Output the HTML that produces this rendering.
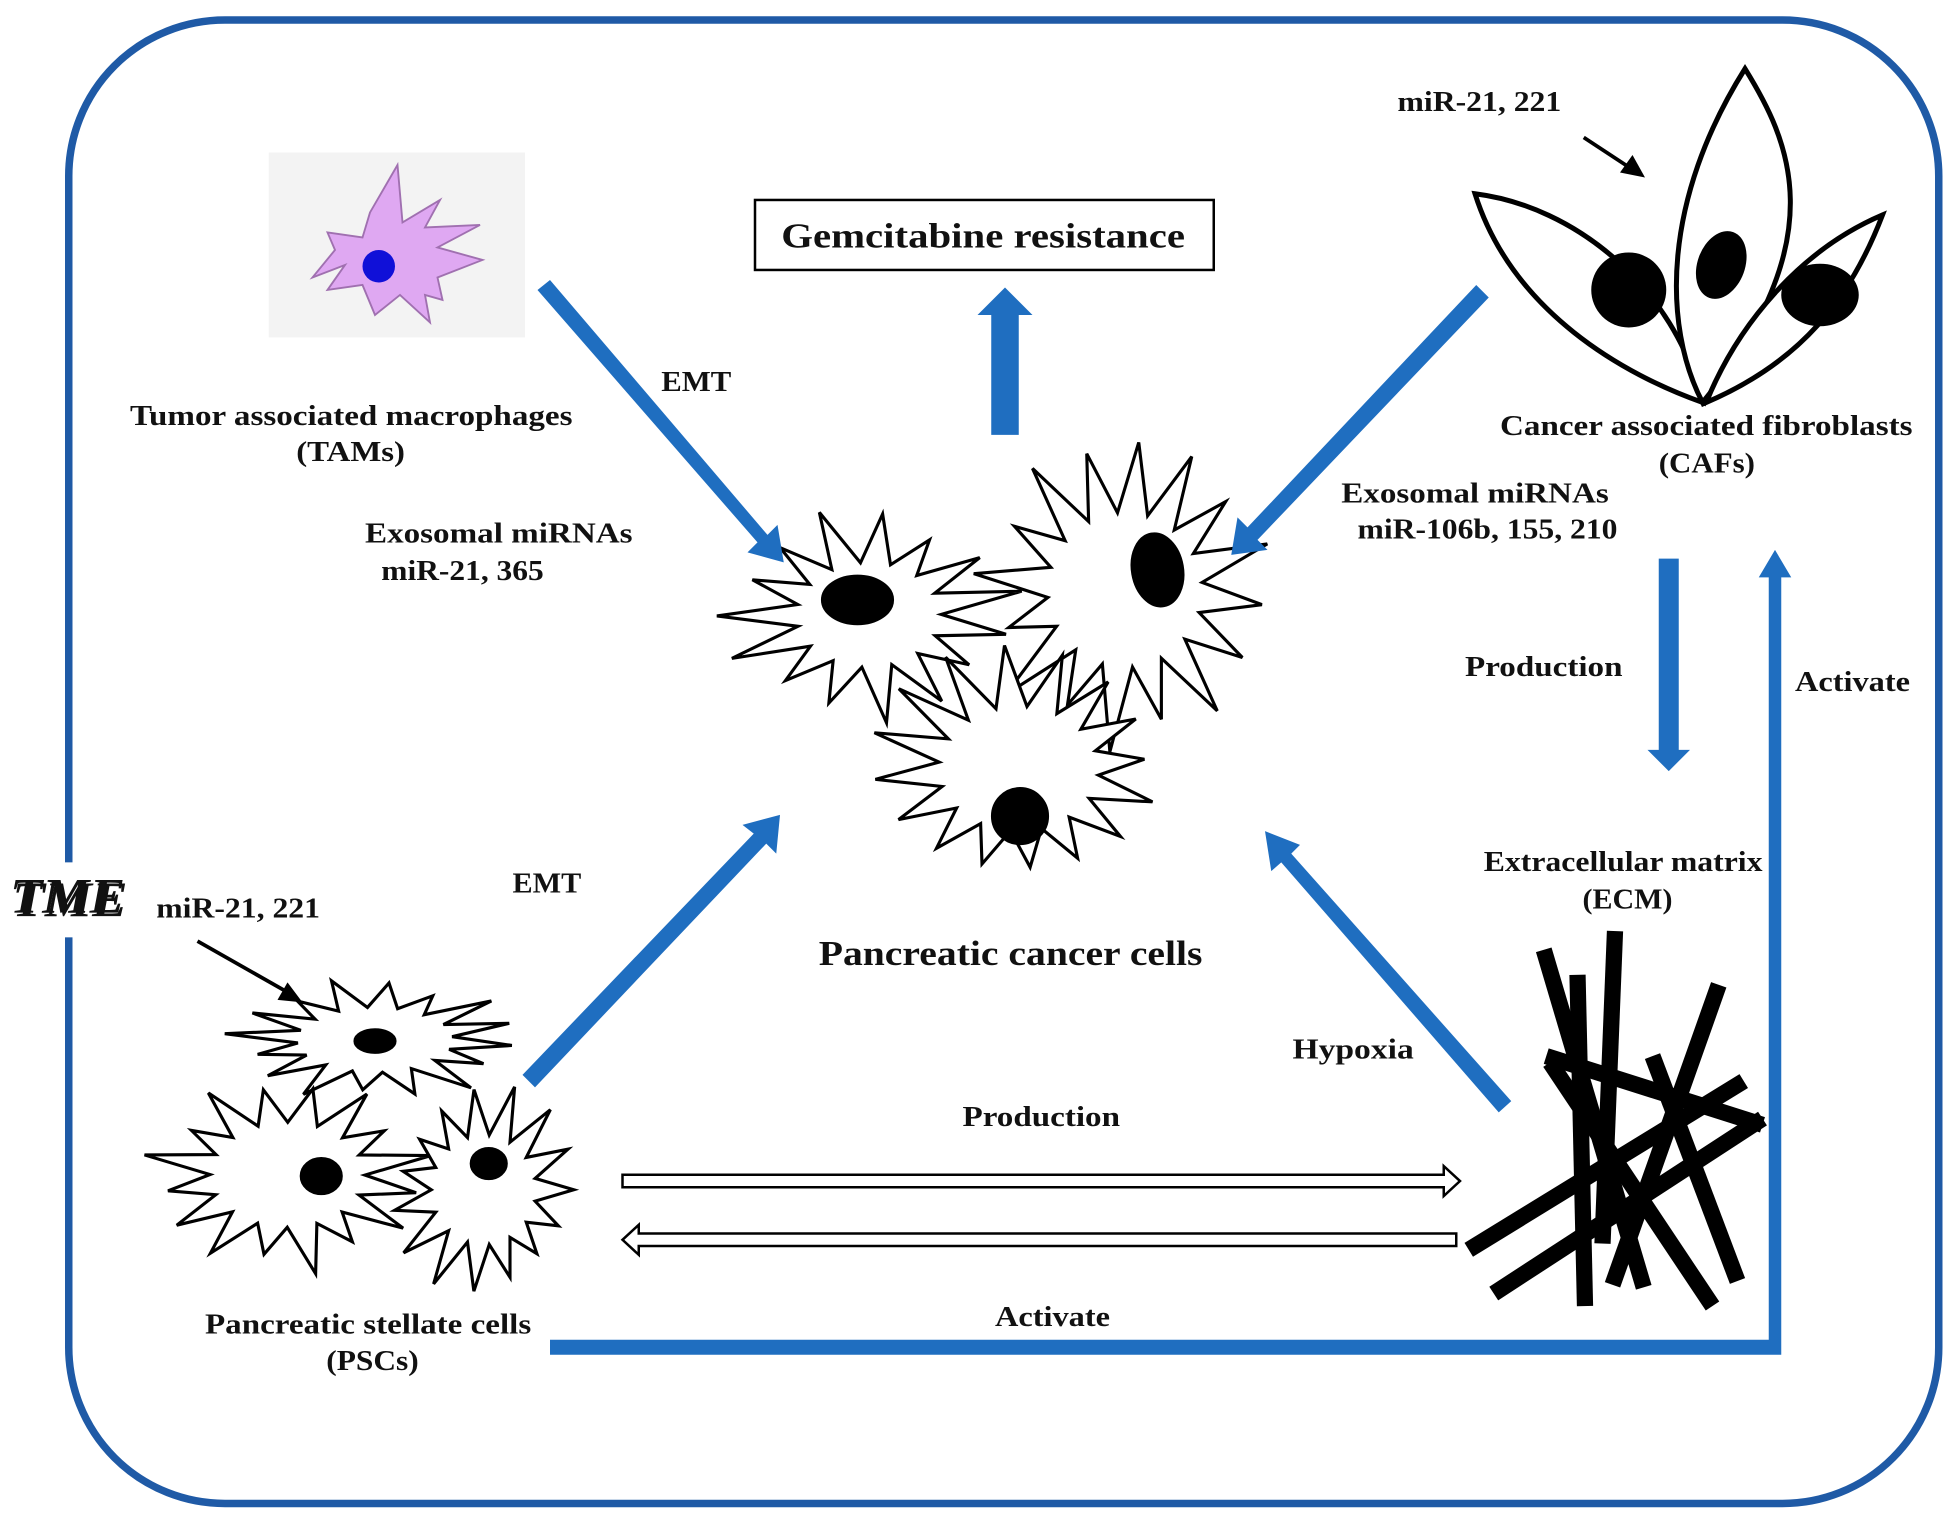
<!DOCTYPE html>
<html><head><meta charset="utf-8"><style>
html,body{margin:0;padding:0;background:#fff}
svg{display:block}
text{font-family:"Liberation Serif",serif;font-weight:bold;fill:#111}
</style></head><body>
<svg id="s" width="1960" height="1526" viewBox="0 0 1568 1221" preserveAspectRatio="none">
<rect x="55" y="16" width="1496" height="1187" rx="125" ry="125" fill="none" stroke="#1f5aa6" stroke-width="6"/>
<rect x="4" y="690" width="100" height="60" fill="#fff"/>
<text x="8" y="730" font-size="40" font-style="italic" fill="#999" transform="translate(2,3)" textLength="92" lengthAdjust="spacingAndGlyphs">TME</text>
<text x="8" y="730" font-size="40" font-style="italic" textLength="92" lengthAdjust="spacingAndGlyphs">TME</text>

<g id="cells" stroke="#000" stroke-width="2.5" fill="#fff"></g>

<!-- TAM -->
<rect x="215" y="122" width="205" height="148" fill="#f3f3f3"/>
<path d="M318,132 L322,178 L352,160 L340,182 L384,180 L350,198 L386,208 L350,222 L354,240 L340,236 L344,258 L320,236 L300,252 L290,228 L262,232 L276,212 L250,222 L268,200 L262,186 L290,190 L296,170 Z" fill="#dfa8f2" stroke="#a070b0" stroke-width="1.5"/>
<circle cx="303" cy="213" r="13" fill="#1010d8"/>

<!-- CAFs -->
<g fill="#fff" stroke="#000" stroke-width="4">
<path d="M1180,155 C1260,165 1340,230 1362,322 C1300,300 1210,250 1180,155 Z"/>
<path d="M1396,55 C1430,110 1470,190 1362,322 C1330,260 1330,160 1396,55 Z"/>
<path d="M1506,172 C1480,240 1440,290 1365,322 C1390,260 1440,200 1506,172 Z"/>
</g>
<ellipse cx="1303" cy="232" rx="30" ry="30"/>
<ellipse cx="1377" cy="212" rx="19" ry="28" transform="rotate(20 1377 212)"/>
<ellipse cx="1456" cy="236" rx="31" ry="25"/>

<!-- ECM -->
<g stroke="#000" stroke-width="13">
<line x1="1235" y1="760" x2="1315" y2="1030"/>
<line x1="1262" y1="780" x2="1268" y2="1045"/>
<line x1="1292" y1="745" x2="1282" y2="995"/>
<line x1="1375" y1="788" x2="1290" y2="1028"/>
<line x1="1322" y1="845" x2="1390" y2="1025"/>
<line x1="1240" y1="850" x2="1370" y2="1045"/>
<line x1="1237" y1="845" x2="1410" y2="900"/>
<line x1="1175" y1="1000" x2="1395" y2="865"/>
<line x1="1195" y1="1035" x2="1410" y2="895"/>
</g>

<!-- blue arrows -->
<g fill="#1f6ec0">
<polygon points="430,232 440,224 614,428 622,420 627,450 598,442 606,434"/>
<polygon points="793,348 815,348 815,252 826,252 804,230 782,252 793,252"/>
<polygon points="1181,228 1191,238 1006,432 1014,440 985,444 990,414 998,422"/>
<polygon points="418,860 428,870 613,675 621,683 624,652 594,660 603,667"/>
<polygon points="1209,881 1199,890 1025,690 1017,697 1012,665 1040,676 1033,683"/>
<polygon points="1327,447 1343,447 1343,600 1352,600 1335,617 1318,600 1327,600"/>
<polygon points="440,1072 1415,1072 1415,462 1407,462 1420,440 1433,462 1425,462 1425,1084 440,1084"/>
</g>
<!-- hollow arrows -->
<g fill="#fff" stroke="#000" stroke-width="2">
<polygon points="498,940 1155,940 1155,933 1168,945 1155,957 1155,950 498,950"/>
<polygon points="1165,987 511,987 511,980 498,992 511,1004 511,997 1165,997"/>
</g>

<rect x="604" y="160" width="367" height="56" fill="#fff" stroke="#000" stroke-width="2"/>
<text x="625" y="198" font-size="28" textLength="323" lengthAdjust="spacingAndGlyphs">Gemcitabine resistance</text>

<g font-size="22.5">
<text x="104" y="340" textLength="354" lengthAdjust="spacingAndGlyphs">Tumor associated macrophages</text>
<text x="237" y="369" textLength="87" lengthAdjust="spacingAndGlyphs">(TAMs)</text>
<text x="529" y="313" textLength="56" lengthAdjust="spacingAndGlyphs">EMT</text>
<text x="292" y="434" textLength="214" lengthAdjust="spacingAndGlyphs">Exosomal miRNAs</text>
<text x="305" y="464" textLength="130" lengthAdjust="spacingAndGlyphs">miR-21, 365</text>
<text x="1118" y="89" textLength="131" lengthAdjust="spacingAndGlyphs">miR-21, 221</text>
<text x="1200" y="348" textLength="330" lengthAdjust="spacingAndGlyphs">Cancer associated fibroblasts</text>
<text x="1327" y="378" textLength="77" lengthAdjust="spacingAndGlyphs">(CAFs)</text>
<text x="1073" y="402" textLength="214" lengthAdjust="spacingAndGlyphs">Exosomal miRNAs</text>
<text x="1086" y="431" textLength="208" lengthAdjust="spacingAndGlyphs">miR-106b, 155, 210</text>
<text x="1172" y="541" textLength="126" lengthAdjust="spacingAndGlyphs">Production</text>
<text x="1436" y="553" textLength="92" lengthAdjust="spacingAndGlyphs">Activate</text>
<text x="1187" y="697" textLength="223" lengthAdjust="spacingAndGlyphs">Extracellular matrix</text>
<text x="1266" y="727" textLength="72" lengthAdjust="spacingAndGlyphs">(ECM)</text>
<text x="410" y="714" textLength="55" lengthAdjust="spacingAndGlyphs">EMT</text>
<text x="125" y="734" textLength="131" lengthAdjust="spacingAndGlyphs">miR-21, 221</text>
<text x="655" y="772" font-size="28" textLength="307" lengthAdjust="spacingAndGlyphs">Pancreatic cancer cells</text>
<text x="1034" y="847" textLength="97" lengthAdjust="spacingAndGlyphs">Hypoxia</text>
<text x="770" y="901" textLength="126" lengthAdjust="spacingAndGlyphs">Production</text>
<text x="796" y="1061" textLength="92" lengthAdjust="spacingAndGlyphs">Activate</text>
<text x="164" y="1067" textLength="261" lengthAdjust="spacingAndGlyphs">Pancreatic stellate cells</text>
<text x="261" y="1096" textLength="74" lengthAdjust="spacingAndGlyphs">(PSCs)</text>
</g>
<g stroke="#000" stroke-width="3"><line x1="1267" y1="110" x2="1305" y2="135"/><line x1="158" y1="753" x2="232" y2="795"/></g>
<polygon points="1316,142 1296,138 1306,124" fill="#000"/>
<polygon points="242,802 222,800 230,786" fill="#000"/>
</svg>
<script>
var g=document.getElementById('cells'),ns='http://www.w3.org/2000/svg';
function star(cx,cy,rx,ry,irx,iry,n,rot,seed){var p=[];for(var i=0;i<2*n;i++){var a=rot+Math.PI*i/n;var j=1+0.12*Math.sin(i*seed);var ox=(i%2?irx:rx*j),oy=(i%2?iry:ry*j);p.push((cx+ox*Math.cos(a)).toFixed(1)+','+(cy+oy*Math.sin(a)).toFixed(1));}
var e=document.createElementNS(ns,'polygon');e.setAttribute('points',p.join(' '));g.appendChild(e);}
function nuc(cx,cy,rx,ry,r){var e=document.createElementNS(ns,'ellipse');e.setAttribute('cx',cx);e.setAttribute('cy',cy);e.setAttribute('rx',rx);e.setAttribute('ry',ry);e.setAttribute('fill','#000');if(r)e.setAttribute('transform','rotate('+r+' '+cx+' '+cy+')');g.appendChild(e);}
star(695,492,112,78,58,42,15,0.2,2.3);
star(900,472,110,118,62,62,16,0.1,1.7);
star(815,615,112,90,64,50,16,0.3,2.9);
nuc(686,480,28,19);nuc(926,456,20,29,-10);nuc(816,653,22,22);
star(300,832,110,45,62,26,16,0.1,2.1);
star(230,940,105,72,62,42,16,0.2,1.3);
star(387,952,72,78,42,44,15,0.0,2.7);
nuc(300,833,16,9);nuc(257,941,16,14);nuc(391,931,14,12);
</script>
</body></html>
